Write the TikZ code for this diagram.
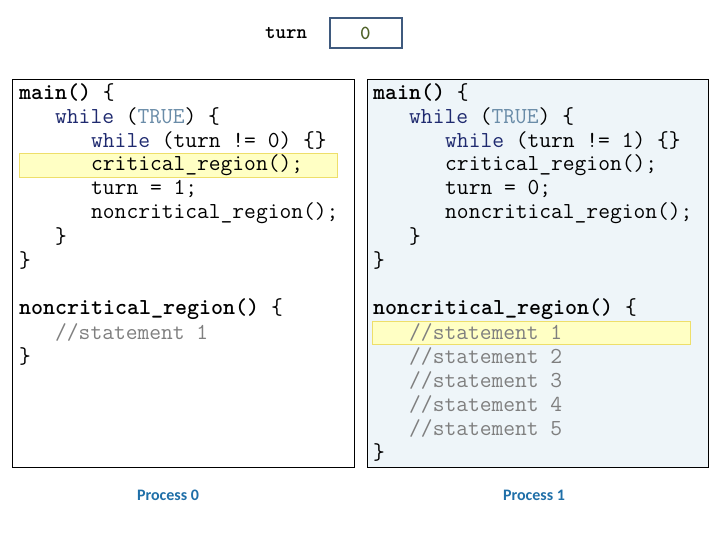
\documentclass[tikz,border=0pt]{standalone}
\usepackage{fontspec}
\newfontfamily\labelfont{Carlito}
\usepackage{xcolor}
\definecolor{kw}{HTML}{1F2A6F}
\definecolor{cst}{HTML}{6A8CA8}
\definecolor{cmt}{HTML}{7F7F7F}
\definecolor{hilite}{HTML}{FFFFC4}
\definecolor{hiedge}{HTML}{EEDF6A}
\definecolor{procblue}{HTML}{1F6FA8}
\definecolor{turnedge}{HTML}{3F5A7E}
\definecolor{zerogreen}{HTML}{4F6228}
\definecolor{rightbg}{HTML}{EEF5F9}
\newcommand{\kw}[1]{\textcolor{kw}{#1}}
\newcommand{\cst}[1]{\textcolor{cst}{#1}}
\newcommand{\cmt}[1]{\textcolor{cmt}{#1}}

\begin{document}
\begin{tikzpicture}[x=1pt,y=-1pt,
  code/.style={right,inner sep=0pt,font=\ttfamily\fontsize{22.86}{24}\selectfont},
  proc/.style={inner sep=0pt,text=procblue,font=\labelfont\bfseries\fontsize{16}{18}\selectfont}]
\useasboundingbox (0,0) rectangle (720,540);

% turn variable:
\node[code,font=\ttfamily\bfseries\fontsize{20}{22}\selectfont] (turnlbl) at (265,33) {turn};
\draw[turnedge,line width=1.5pt] (330,18) rectangle (402,48);
\node[code,text=zerogreen,font=\ttfamily\bfseries\fontsize{20}{22}\selectfont] (turnval) at (360,33) {0};

% boxes:
\draw[fill=rightbg] (367,79) rectangle (708,467);
\draw (12,79) rectangle (354,467);
\draw[hiedge,fill=hilite] (19,153) rectangle (337,177);
\draw[hiedge,fill=hilite] (372,321) rectangle (690,344);

% process 0:
\node[code] (m0) at (19,93) {\textbf{main()} \{};
\node[code] (w0) at (55,117) {\kw{while} (\cst{TRUE}) \{};
\node[code] (t0) at (91,141) {\kw{while} (turn != 0) \{\}};
\node[code] (c0) at (91,165) {critical\_region();};
\node[code] (s0) at (91,189) {turn = 1;};
\node[code] (n0) at (91,213) {noncritical\_region();};
\node[code] (e0) at (55,237) {\}};
\node[code] (f0) at (19,261) {\}};
\node[code] (nf0) at (19,309) {\textbf{noncritical\_region()} \{};
\node[code] (st0) at (55,333) {\cmt{//statement 1}};
\node[code] (ne0) at (19,357) {\}};

% process 1:
\node[code] (m1) at (373,93) {\textbf{main()} \{};
\node[code] (w1) at (409,117) {\kw{while} (\cst{TRUE}) \{};
\node[code] (t1) at (445,141) {\kw{while} (turn != 1) \{\}};
\node[code] (c1) at (445,165) {critical\_region();};
\node[code] (s1) at (445,189) {turn = 0;};
\node[code] (n1) at (445,213) {noncritical\_region();};
\node[code] (e1) at (409,237) {\}};
\node[code] (f1) at (373,261) {\}};
\node[code] (nf1) at (373,309) {\textbf{noncritical\_region()} \{};
\foreach \i in {1,...,5}
  \node[code] (st1\i) at (409,309+24*\i) {\cmt{//statement \i}};
\node[code] (ne1) at (373,453) {\}};

% labels:
\node[proc] (p0) at (168,495) {Process 0};
\node[proc] (p1) at (534,495) {Process 1};

\end{tikzpicture}
\end{document}
